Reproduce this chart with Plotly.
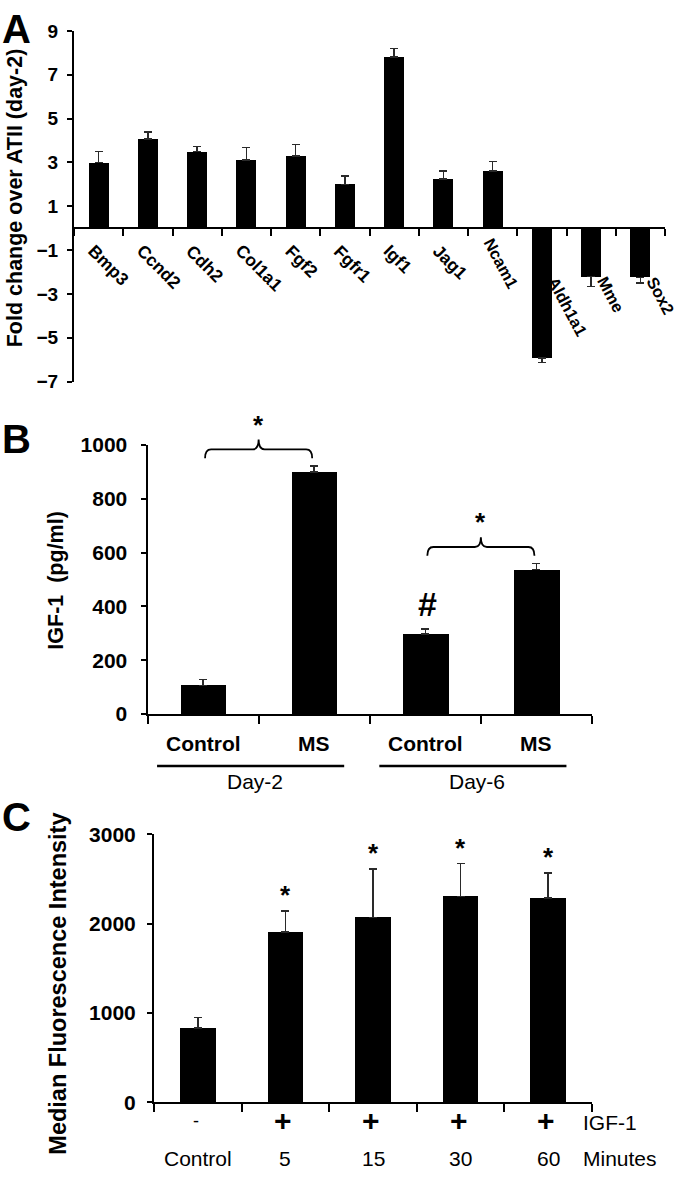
import math
import plotly.graph_objects as go

W, H = 680, 1179
FONT = "Arial, Liberation Sans, sans-serif"

# ---------------- Data ----------------
# Panel A
genes = ["Bmp3", "Ccnd2", "Cdh2", "Col1a1", "Fgf2", "Fgfr1", "Igf1", "Jag1",
         "Ncam1", "Aldh1a1", "Mme", "Sox2"]
fold_change = [3.0, 4.07, 3.5, 3.11, 3.3, 2.0, 7.82, 2.24, 2.62, -5.93, -2.2, -2.24]
fold_err = [0.51, 0.32, 0.22, 0.57, 0.52, 0.39, 0.37, 0.36, 0.43, 0.2, 0.46, 0.25]
a_ticks = [9, 7, 5, 3, 1, -1, -3, -5, -7]
a_title = "Fold change over ATII (day-2)"

# Panel B
b_groups = ["Control", "MS", "Control", "MS"]
b_days = ["Day-2", "Day-6"]
b_day_members = [[0, 1], [2, 3]]
igf1 = [106, 900, 298, 537]
igf1_err = [22, 22, 18, 22]
b_ticks = [0, 200, 400, 600, 800, 1000]
b_sig_pairs = [(0, 1), (2, 3)]
b_hash_index = [2]
b_title = "IGF-1  (pg/ml)"

# Panel C
c_igf = ["-", "+", "+", "+", "+"]
c_minutes = ["Control", "5", "15", "30", "60"]
mfi = [830, 1903, 2067, 2301, 2283]
mfi_err = [121, 237, 545, 370, 285]
c_ticks = [0, 1000, 2000, 3000]
c_star = [False, True, True, True, True]
c_title = "Median Fluorescence Intensity"

# ---------------- Layout geometry (pixels) ----------------
A_X = (74, 665); A_Y = (19.3, 377)      # left,right ; top,bottom
B_X = (147.5, 592); B_Y = (441.7, 716)
C_X = (154, 592); C_Y = (838.5, 1112)
A_R = (-7, 9); B_R = (0, 1000); C_R = (0, 3000)

# approximate Arial Bold advance widths (em) for label placement
BOLD_W = {c: 0.556 for c in "0123456789"}
BOLD_W.update({"A": .722, "B": .722, "C": .722, "F": .611, "I": .278, "J": .556,
               "M": .833, "N": .722, "S": .667,
               "a": .556, "c": .556, "d": .611, "e": .556, "f": .333, "g": .611,
               "h": .611, "l": .278, "m": .889, "n": .611, "o": .611, "p": .611,
               "r": .389, "x": .556})


def text_w(s, size):
    return sum(BOLD_W.get(c, 0.6) for c in s) * size


def dom_x(px):
    return [px[0] / W, px[1] / W]


def dom_y(py):
    return [1 - py[1] / H, 1 - py[0] / H]


def px2p_x(x):
    return x / W


def px2p_y(y):
    return 1 - y / H


def val2px(v, rng, py):
    return py[1] - (v - rng[0]) / (rng[1] - rng[0]) * (py[1] - py[0])


def cat2px(i, n, px):
    return px[0] + (i + 0.5) * (px[1] - px[0]) / n


BLACK = "black"
ERRC = "#2a2a2a"

fig = go.Figure()

# Panel A bars
fig.add_trace(go.Bar(
    x=list(range(len(genes))), y=fold_change, width=0.41,
    marker=dict(color=BLACK, line=dict(width=0)),
    error_y=dict(type="data", symmetric=False,
                 array=[e if v > 0 else 0 for v, e in zip(fold_change, fold_err)],
                 arrayminus=[e if v < 0 else 0 for v, e in zip(fold_change, fold_err)],
                 color=ERRC, thickness=1.5, width=4),
    xaxis="x", yaxis="y", showlegend=False, hoverinfo="skip"))

# Panel B bars
fig.add_trace(go.Bar(
    x=list(range(len(igf1))), y=igf1, width=0.41,
    marker=dict(color=BLACK, line=dict(width=0)),
    error_y=dict(type="data", symmetric=False, array=igf1_err,
                 arrayminus=[0] * len(igf1), color=ERRC, thickness=1.5, width=4),
    xaxis="x2", yaxis="y2", showlegend=False, hoverinfo="skip"))

# Panel C bars
fig.add_trace(go.Bar(
    x=list(range(len(mfi))), y=mfi, width=0.405,
    marker=dict(color=BLACK, line=dict(width=0)),
    error_y=dict(type="data", symmetric=False, array=mfi_err,
                 arrayminus=[0] * len(mfi), color=ERRC, thickness=1.5, width=4),
    xaxis="x3", yaxis="y3", showlegend=False, hoverinfo="skip"))

bold = dict(family=FONT, color=BLACK, weight="bold")

# zero-position of panel A x axis in paper coords
a_dom_y = dom_y(A_Y)
a_zero = a_dom_y[0] + (0 - A_R[0]) / (A_R[1] - A_R[0]) * (a_dom_y[1] - a_dom_y[0])


def xaxis_common(n, dom):
    return dict(domain=dom, range=[-0.5, n - 0.5], tickvals=[i - 0.5 for i in range(n + 1)],
                showticklabels=False, ticks="outside", ticklen=7, tickwidth=2,
                tickcolor=BLACK, showline=True, linewidth=2, linecolor=BLACK,
                showgrid=False, zeroline=False, fixedrange=True)


def yaxis_common(rng, dom, ticks, size, standoff):
    return dict(domain=dom, range=list(rng), tickvals=ticks, ticks="outside", ticklen=5,
                tickwidth=2, tickcolor=BLACK, showline=True, linewidth=2, linecolor=BLACK,
                showgrid=False, zeroline=False, tickfont=dict(size=size, **bold),
                ticklabelstandoff=standoff, fixedrange=True)


xa = xaxis_common(len(genes), dom_x(A_X))
xa.update(anchor="free", position=a_zero)
xb = xaxis_common(len(igf1), dom_x(B_X)); xb.update(anchor="y2", ticklen=8)
xc = xaxis_common(len(mfi), dom_x(C_X)); xc.update(anchor="y3", ticklen=8)

ya = yaxis_common(A_R, a_dom_y, a_ticks, 19, 5); ya.update(anchor="x")
yb = yaxis_common(B_R, dom_y(B_Y), b_ticks, 21, 9); yb.update(anchor="x2")
yc = yaxis_common(C_R, dom_y(C_Y), c_ticks, 21, 7); yc.update(anchor="x3")

annotations = []
shapes = []


def ann(text, xpx, ypx, size, weight="bold", xanchor="center", yanchor="middle",
        angle=0):
    annotations.append(dict(
        text=text, x=px2p_x(xpx), y=px2p_y(ypx), xref="paper", yref="paper",
        showarrow=False, xanchor=xanchor, yanchor=yanchor, textangle=angle,
        font=dict(family=FONT, size=size, color=BLACK, weight=weight)))


def rotated_label(text, sx, sy, size, angle):
    """Place a rotated label so that its first letter's cap-top-left sits at (sx, sy)."""
    t = math.radians(angle)
    half = text_w(text, size) / 2
    cap = 0.37 * size
    cx = sx + half * math.cos(t) - cap * math.sin(t)
    cy = sy + half * math.sin(t) + cap * math.cos(t)
    ann(text, cx, cy, size, angle=angle)


# Panel letters
ann("A", 0, 17, 40, xanchor="left")
ann("B", 0, 435, 40, xanchor="left")
ann("C", 0, 821.5, 40, xanchor="left")

# Axis titles
ann(a_title, 15, 190, 21.5, angle=-90)
ann(b_title, 56, 580, 21.5, angle=-90)
ann(c_title, 58, 991, 23.5, angle=-90)

# Panel A category labels (rotated)
a_zero_px = val2px(0, A_R, A_Y)
for i, (g, v) in enumerate(zip(genes, fold_change)):
    cx = cat2px(i, len(genes), A_X)
    if v > 0 and i < 8:
        rotated_label(g, cx - 3, a_zero_px + 16, 17.5, 45)
    elif v > 0:
        rotated_label(g, cx + 1, a_zero_px + 9, 16.5, 62)
    else:
        rotated_label(g, cx + 16, a_zero_px + 48, 16.5, 62)

# Panel B category labels, day groups
b_zero_px = val2px(0, B_R, B_Y)
for i, g in enumerate(b_groups):
    ann(g, cat2px(i, len(b_groups), B_X), b_zero_px + 30, 21)
for day, members in zip(b_days, b_day_members):
    left = cat2px(members[0], len(b_groups), B_X) - 46
    right = cat2px(members[-1], len(b_groups), B_X) + 30
    shapes.append(dict(type="line", xref="paper", yref="paper",
                       x0=px2p_x(left), x1=px2p_x(right),
                       y0=px2p_y(b_zero_px + 53), y1=px2p_y(b_zero_px + 53),
                       line=dict(color=BLACK, width=2.5)))
    ann(day, (left + right) / 2 + 4, b_zero_px + 69, 21, weight="normal")

# Panel B significance braces
for (i, j) in b_sig_pairs:
    tops = [igf1[k] + igf1_err[k] for k in (i, j)]
    base = val2px(max(tops), B_R, B_Y) - 8
    top = base - 9
    peak = top - 10
    xl = cat2px(i, len(igf1), B_X) + 2
    xr = cat2px(j, len(igf1), B_X) - 2
    xm = (xl + xr) / 2
    d = 6
    P = lambda x, y: f"{px2p_x(x):.5f},{px2p_y(y):.5f}"
    path = (f"M {P(xl, base)} Q {P(xl, top)} {P(xl + d, top)} L {P(xm - d, top)} "
            f"Q {P(xm, top)} {P(xm, peak)} Q {P(xm, top)} {P(xm + d, top)} "
            f"L {P(xr - d, top)} Q {P(xr, top)} {P(xr, base)}")
    shapes.append(dict(type="path", xref="paper", yref="paper", path=path,
                       line=dict(color=BLACK, width=1.8)))
    ann("*", xm, peak + 2, 26, yanchor="bottom")

for k in b_hash_index:
    ann("#", cat2px(k, len(igf1), B_X) + 2,
        val2px(igf1[k] + igf1_err[k], B_R, B_Y) - 4, 34, yanchor="bottom")

# Panel C labels
c_zero_px = val2px(0, C_R, C_Y)
for i, (s, m) in enumerate(zip(c_igf, c_minutes)):
    cx = cat2px(i, len(mfi), C_X)
    ann(s, cx - 2, c_zero_px + 19, 30 if s == "+" else 18,
        weight="bold" if s == "+" else "normal")
    ann(m, cx, c_zero_px + 57, 21, weight="normal")
    if c_star[i]:
        ann("*", cx, val2px(mfi[i] + mfi_err[i], C_R, C_Y) + 1, 26, yanchor="bottom")
ann("IGF-1", C_X[1] - 11, c_zero_px + 21, 21, weight="normal", xanchor="left")
ann("Minutes", C_X[1] - 11, c_zero_px + 57, 21, weight="normal", xanchor="left")

fig.update_layout(
    width=W, height=H, margin=dict(l=0, r=0, t=0, b=0),
    paper_bgcolor="white", plot_bgcolor="white",
    xaxis=xa, yaxis=ya, xaxis2=xb, yaxis2=yb, xaxis3=xc, yaxis3=yc,
    annotations=annotations, shapes=shapes, bargap=0, showlegend=False,
    font=dict(family=FONT, color=BLACK),
)

fig.write_html("out.html", config={"displayModeBar": False},
               post_script="document.body.style.margin='0';document.body.style.overflow='hidden';")
